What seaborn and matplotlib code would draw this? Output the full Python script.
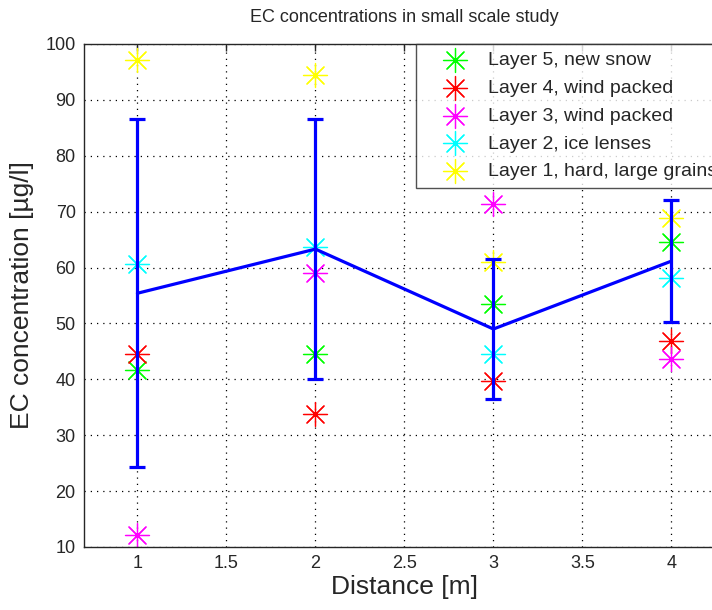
import numpy as np
import pandas as pd
import matplotlib
matplotlib.use("Agg")
import matplotlib.pyplot as plt
import seaborn as sns

# distances of the sampling points
distance = [1, 2, 3, 4]

# EC concentration per layer [µg/l]
layer5 = [41.7, 44.5, 53.5, 64.6]
layer4 = [44.5, 33.8, 39.7, 46.9]
layer3 = [12.1, 59.1, 71.4, 43.6]
layer2 = [60.6, 63.7, 44.5, 58.1]
layer1 = [97.1, 94.5, 61.0, 68.9]

layer_names = [
    "Layer 5, new snow",
    "Layer 4, wind packed",
    "Layer 3, wind packed",
    "Layer 2, ice lenses",
    "Layer 1, hard, large grains",
]
layer_colors = ["#00ff00", "#ff0000", "#ff00ff", "#00ffff", "#ffff00"]

# mean line and error bar half widths
mean_ec = [55.4, 63.3, 49.0, 61.15]
err_ec = [31.1, 23.2, 12.5, 10.85]

sns.set_theme(style="white")
plt.rcParams["font.family"] = ["Liberation Sans", "DejaVu Sans"]

df = pd.DataFrame({
    "distance": distance * 5,
    "ec": layer5 + layer4 + layer3 + layer2 + layer1,
    "layer": np.repeat(layer_names, len(distance)),
})

fig = plt.figure(figsize=(7.12, 6.10), dpi=100)
ax = fig.add_axes([0.118, 0.1033, 0.9, 0.8246])

asterisk = (8, 2, 0)
for name, color in zip(layer_names, layer_colors):
    sub = df[df["layer"] == name]
    sns.scatterplot(data=sub, x="distance", y="ec", ax=ax, color=color,
                    marker=asterisk, s=300, linewidth=0.9, label=name,
                    zorder=2)

ax.errorbar(distance, mean_ec, yerr=err_ec, color="#0000ff", linewidth=2.3,
            capsize=6, capthick=2.3, zorder=3)

ax.set_xlim(0.7, 4.3)
ax.set_ylim(10, 100)
ax.set_xticks(np.arange(1, 4.01, 0.5))
ax.set_xticklabels(["1", "1.5", "2", "2.5", "3", "3.5", "4"])
ax.set_yticks(np.arange(10, 101, 10))

ax.grid(True, color="black", linestyle=(0, (1, 4)), linewidth=0.9)
for s in ax.spines.values():
    s.set_color("#262626")
    s.set_linewidth(1.0)
ax.tick_params(direction="in", length=5, width=1, color="#262626",
               labelsize=13, top=True, right=True, pad=6)

ax.set_xlabel("Distance [m]", fontsize=19, labelpad=2)
ax.set_ylabel("EC concentration [µg/l]", fontsize=19, labelpad=8)
ax.set_title("EC concentrations in small scale study", fontsize=13, pad=16)

leg = ax.legend(loc="upper right", borderaxespad=0, fontsize=14,
                fancybox=False, frameon=True, edgecolor="#262626",
                handlelength=3.2, handletextpad=0.1, borderpad=0.4,
                labelspacing=0.52, markerscale=1.0)
leg.get_frame().set_linewidth(1.0)

fig.savefig("out.png", dpi=100)
